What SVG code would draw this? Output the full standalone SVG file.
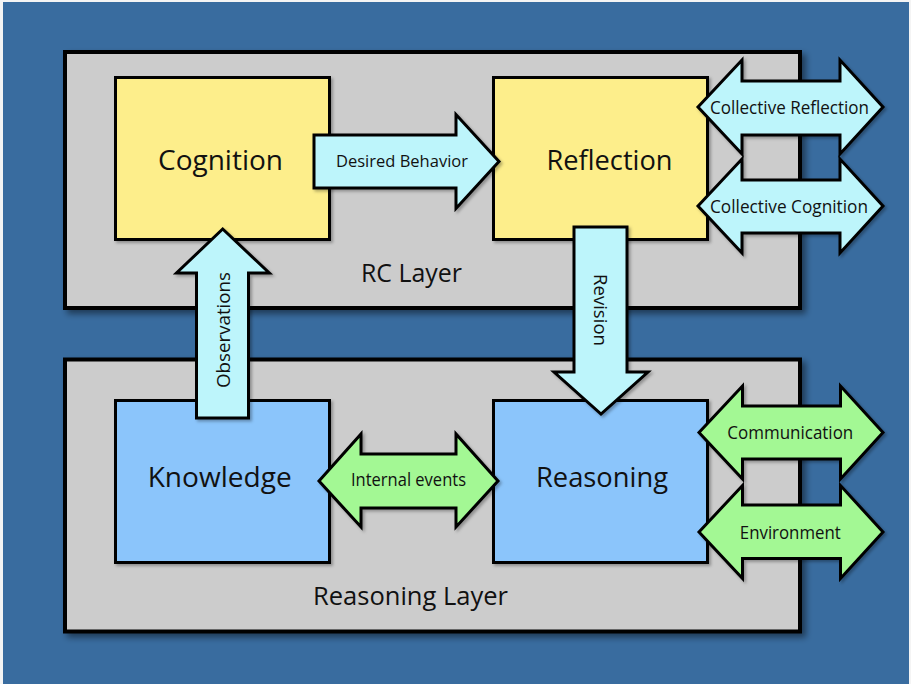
<svg xmlns="http://www.w3.org/2000/svg" width="911" height="684" viewBox="0 0 911 684">
<defs>
<filter id="sh" x="-5%" y="-5%" width="115%" height="115%">
<feDropShadow dx="4" dy="4" stdDeviation="3" flood-color="#000" flood-opacity="0.45"/>
</filter>
<filter id="sh2" x="-5%" y="-5%" width="115%" height="115%">
<feDropShadow dx="2" dy="2" stdDeviation="1.5" flood-color="#000" flood-opacity="0.3"/>
</filter>
</defs>
<style>
.layer{fill:#cccccc;stroke:#000;stroke-width:4;filter:url(#sh)}
.yel{fill:#fdee8b;stroke:#000;stroke-width:3;filter:url(#sh2)}
.blu{fill:#8bc5fb;stroke:#000;stroke-width:3;filter:url(#sh2)}
.cy{fill:#bdf5fb;stroke:#000;stroke-width:3;stroke-linejoin:miter;filter:url(#sh2)}
.gr{fill:#a3f894;stroke:#000;stroke-width:3;stroke-linejoin:miter;filter:url(#sh2)}
text{font-family:"Open Sans","Noto Sans","Liberation Sans",sans-serif;fill:#111;text-anchor:middle}
.big{font-size:27px}
.lay{font-size:26px}
.sm{font-size:19px}
</style>
<rect x="0" y="0" width="911" height="684" fill="#f4f4f4"/>
<rect x="3" y="2" width="906" height="682" fill="#396c9f"/>

<g id="rc-layer">
<rect class="layer" x="65" y="52" width="735" height="256"/>
<text class="lay" x="411.5" y="281.5" textLength="101" lengthAdjust="spacingAndGlyphs">RC Layer</text>
</g>
<g id="reasoning-layer">
<rect class="layer" x="65" y="359.5" width="735" height="272"/>
<text class="lay" x="410.5" y="605" textLength="195" lengthAdjust="spacingAndGlyphs">Reasoning Layer</text>
</g>

<g id="cognition">
<rect class="yel" x="115.5" y="77.5" width="214" height="162"/>
<text class="big" x="220.5" y="170" textLength="125" lengthAdjust="spacingAndGlyphs">Cognition</text>
</g>
<g id="reflection">
<rect class="yel" x="493.5" y="77.5" width="214" height="162"/>
<text class="big" x="609.5" y="170" textLength="126" lengthAdjust="spacingAndGlyphs">Reflection</text>
</g>
<g id="knowledge">
<rect class="blu" x="115.5" y="400.5" width="214" height="162"/>
<text class="big" x="219.7" y="487.3" textLength="144" lengthAdjust="spacingAndGlyphs">Knowledge</text>
</g>
<g id="reasoning">
<rect class="blu" x="493.5" y="400.5" width="214" height="162"/>
<text class="big" x="602" y="487" textLength="132" lengthAdjust="spacingAndGlyphs">Reasoning</text>
</g>

<g id="connectors">
<g id="desired-behavior">
<path class="cy" d="M314,135 L456,135 L456,114.5 L499,161.5 L456,208.5 L456,188 L314,188 Z"/>
<text class="sm" x="402" y="167" textLength="132" lengthAdjust="spacingAndGlyphs" style="font-size:17px">Desired Behavior</text>
</g>
<g id="observations">
<path class="cy" d="M222.7,229 L269.3,273 L248.5,273 L248.5,418 L196.5,418 L196.5,273 L176.5,273 Z"/>
<text class="sm" transform="translate(229.5,330) rotate(-90)" x="0" y="0" textLength="116" lengthAdjust="spacingAndGlyphs">Observations</text>
</g>
<g id="revision">
<path class="cy" d="M574,227 L627,227 L627,372 L648,372 L601,414 L554,372 L574,372 Z"/>
<text class="sm" transform="translate(594,310) rotate(90)" x="0" y="0" textLength="72" lengthAdjust="spacingAndGlyphs">Revision</text>
</g>
<g id="collective-reflection">
<path class="cy" d="M698,107 L742,60 L742,81 L840,81 L840,60 L883,107 L840,154 L840,135 L742,135 L742,154 Z"/>
<text class="sm" x="789.5" y="114.3" textLength="159" lengthAdjust="spacingAndGlyphs">Collective Reflection</text>
</g>
<g id="collective-cognition">
<path class="cy" d="M698,206 L742,159 L742,180 L840,180 L840,159 L883,206 L840,253 L840,233 L742,233 L742,253 Z"/>
<text class="sm" x="789" y="212.5" textLength="158" lengthAdjust="spacingAndGlyphs">Collective Cognition</text>
</g>
<g id="internal-events">
<path class="gr" d="M319,481 L361,434 L361,454 L456,454 L456,434 L498,481 L456,527 L456,508 L361,508 L361,527 Z"/>
<text class="sm" x="408.5" y="485.5" textLength="115" lengthAdjust="spacingAndGlyphs">Internal events</text>
</g>
<g id="communication">
<path class="gr" d="M699,432.5 L742.5,386 L742.5,406 L840.5,406 L840.5,386 L883,432.5 L840.5,479 L840.5,459 L742.5,459 L742.5,479 Z"/>
<text class="sm" x="790.3" y="438.5" textLength="126" lengthAdjust="spacingAndGlyphs">Communication</text>
</g>
<g id="environment">
<path class="gr" d="M699,532 L742.5,485.5 L742.5,505 L840.5,505 L840.5,485.5 L883,532 L840.5,578.5 L840.5,558.5 L742.5,558.5 L742.5,578.5 Z"/>
<text class="sm" x="790.3" y="538.5" textLength="101" lengthAdjust="spacingAndGlyphs">Environment</text>
</g>
</g>
</svg>
